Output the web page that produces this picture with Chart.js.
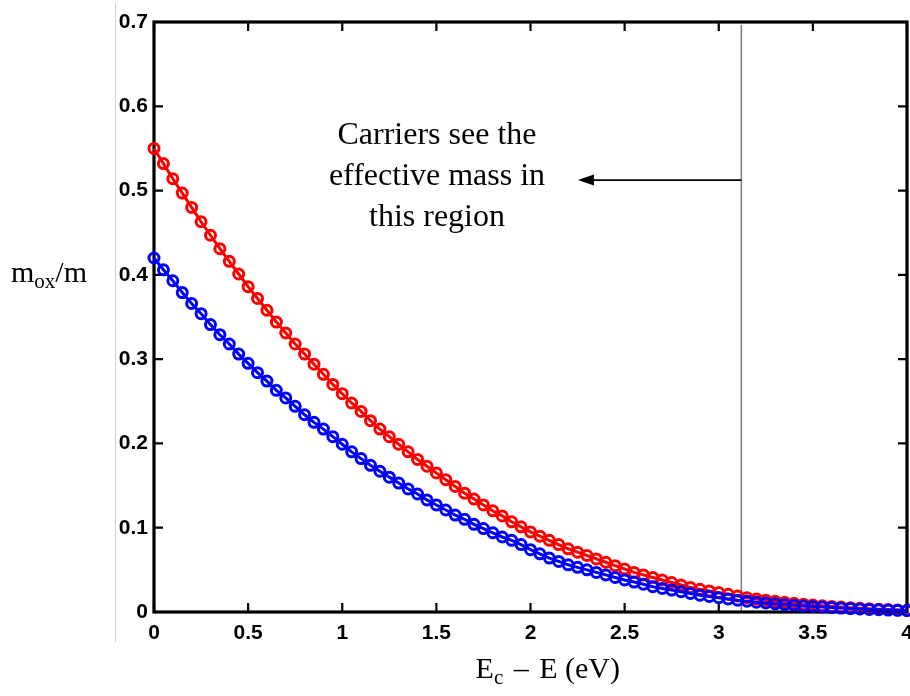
<!DOCTYPE html>
<html lang="en">
<head>
<meta charset="UTF-8">
<title>Effective mass vs energy</title>
<script src="https://cdn.jsdelivr.net/npm/chart.js@4/dist/chart.umd.min.js"></script>
<style>
  body { margin: 0; background: #fff; }
  #wrap { width: 910px; height: 696px; }
</style>
</head>
<body>
<div id="wrap"><canvas id="massChart" width="910" height="696"></canvas></div>
<script>
// energy below the conduction band edge, Ec - E (eV)
const energy = [
  0, 0.05, 0.1, 0.15, 0.2, 0.25, 0.3, 0.35, 0.4, 0.45,
  0.5, 0.55, 0.6, 0.65, 0.7, 0.75, 0.8, 0.85, 0.9, 0.95,
  1, 1.05, 1.1, 1.15, 1.2, 1.25, 1.3, 1.35, 1.4, 1.45,
  1.5, 1.55, 1.6, 1.65, 1.7, 1.75, 1.8, 1.85, 1.9, 1.95,
  2, 2.05, 2.1, 2.15, 2.2, 2.25, 2.3, 2.35, 2.4, 2.45,
  2.5, 2.55, 2.6, 2.65, 2.7, 2.75, 2.8, 2.85, 2.9, 2.95,
  3, 3.05, 3.1, 3.15, 3.2, 3.25, 3.3, 3.35, 3.4, 3.45,
  3.5, 3.55, 3.6, 3.65, 3.7, 3.75, 3.8, 3.85, 3.9, 3.95, 4
];

// m_ox / m, upper (red) curve
const massRed = [
  0.550, 0.532, 0.514, 0.497, 0.480, 0.463, 0.447, 0.431, 0.416, 0.401,
  0.386, 0.372, 0.358, 0.344, 0.331, 0.318, 0.306, 0.294, 0.282, 0.270,
  0.259, 0.248, 0.238, 0.227, 0.217, 0.208, 0.199, 0.190, 0.181, 0.173,
  0.165, 0.157, 0.149, 0.141, 0.134, 0.127, 0.120, 0.114, 0.107, 0.101,
  0.095, 0.090, 0.085, 0.080, 0.075, 0.071, 0.067, 0.063, 0.059, 0.055,
  0.051, 0.047, 0.044, 0.041, 0.038, 0.035, 0.032, 0.029, 0.027, 0.025,
  0.023, 0.021, 0.019, 0.017, 0.0155, 0.014, 0.0127, 0.0115, 0.0104, 0.0093,
  0.0083, 0.0074, 0.0066, 0.0058, 0.0051, 0.0045, 0.0039, 0.0034, 0.0029, 0.0025, 0.0021
];

// m_ox / m, lower (blue) curve
const massBlue = [
  0.420, 0.406, 0.393, 0.379, 0.366, 0.354, 0.341, 0.329, 0.318, 0.306,
  0.295, 0.284, 0.274, 0.263, 0.254, 0.244, 0.234, 0.225, 0.217, 0.208,
  0.199, 0.190, 0.182, 0.174, 0.167, 0.160, 0.153, 0.146, 0.140, 0.133,
  0.127, 0.121, 0.115, 0.110, 0.104, 0.099, 0.094, 0.089, 0.085, 0.080,
  0.074, 0.069, 0.064, 0.060, 0.056, 0.053, 0.050, 0.047, 0.044, 0.041,
  0.038, 0.0355, 0.033, 0.030, 0.028, 0.026, 0.024, 0.022, 0.020, 0.0185,
  0.017, 0.0155, 0.014, 0.0128, 0.0117, 0.0107, 0.0097, 0.0088, 0.008, 0.0072,
  0.0065, 0.0058, 0.0052, 0.0046, 0.0041, 0.0036, 0.0031, 0.0027, 0.0023, 0.002, 0.0017
];

const xTicks = [0, 0.5, 1, 1.5, 2, 2.5, 3, 3.5, 4];
const xTickLabels = ['0', '0.5', '1', '1.5', '2', '2.5', '3', '3.5', '4'];
const yTicks = [0, 0.1, 0.2, 0.3, 0.4, 0.5, 0.6, 0.7];
const yTickLabels = ['0', '0.1', '0.2', '0.3', '0.4', '0.5', '0.6', '0.7'];

// vertical marker and the arrow pointing back into the low-energy region
const cutoffEnergy = 3.12;
const arrowLevel = 0.5125;
const arrowTip = 2.252;
const noteLines = ['Carriers see the', 'effective mass in', 'this region'];

const serif = '"Liberation Serif", "Times New Roman", serif';
const sans = '"Liberation Sans", Arial, sans-serif';

function toPoints(ys) {
  return energy.map((x, i) => ({ x: x, y: ys[i] }));
}

// box, inward ticks, the cutoff line and the text annotations
const decorations = {
  id: 'decorations',
  beforeDatasetsDraw(chart) {
    const { ctx, chartArea: a, scales: { x, y } } = chart;
    ctx.save();

    // faint edge line left of the tick labels
    ctx.strokeStyle = '#d0d0d0';
    ctx.lineWidth = 1;
    ctx.beginPath();
    ctx.moveTo(115.5, 3);
    ctx.lineTo(115.5, 642);
    ctx.stroke();

    // cutoff line
    const cx = x.getPixelForValue(cutoffEnergy);
    ctx.strokeStyle = '#808080';
    ctx.lineWidth = 1.6;
    ctx.beginPath();
    ctx.moveTo(cx, a.top + 3);
    ctx.lineTo(cx, a.bottom);
    ctx.stroke();

    // ticks pointing into the plot, on all four sides
    ctx.strokeStyle = '#000';
    ctx.lineWidth = 2.2;
    ctx.beginPath();
    xTicks.forEach(v => {
      const px = x.getPixelForValue(v);
      ctx.moveTo(px, a.bottom); ctx.lineTo(px, a.bottom - 9);
      ctx.moveTo(px, a.top); ctx.lineTo(px, a.top + 9);
    });
    yTicks.forEach(v => {
      const py = y.getPixelForValue(v);
      ctx.moveTo(a.left, py); ctx.lineTo(a.left + 9, py);
      ctx.moveTo(a.right, py); ctx.lineTo(a.right - 9, py);
    });
    ctx.stroke();

    ctx.lineWidth = 3.2;
    ctx.strokeRect(a.left, a.top, a.right - a.left, a.bottom - a.top);

    // x tick labels (drawn here so the last one may run to the edge)
    ctx.fillStyle = '#000';
    ctx.font = 'bold 21px ' + sans;
    ctx.textAlign = 'center';
    ctx.textBaseline = 'alphabetic';
    xTicks.forEach((v, i) => ctx.fillText(xTickLabels[i], x.getPixelForValue(v), 639));
    ctx.restore();
  },
  afterDraw(chart) {
    const { ctx, scales: { x, y } } = chart;
    ctx.save();

    // arrow
    const ay = y.getPixelForValue(arrowLevel);
    const x0 = x.getPixelForValue(cutoffEnergy);
    const x1 = x.getPixelForValue(arrowTip);
    ctx.strokeStyle = '#000';
    ctx.fillStyle = '#000';
    ctx.lineWidth = 1.8;
    ctx.beginPath();
    ctx.moveTo(x0, ay);
    ctx.lineTo(x1 + 12, ay);
    ctx.stroke();
    ctx.beginPath();
    ctx.moveTo(x1, ay);
    ctx.lineTo(x1 + 16, ay - 5.5);
    ctx.lineTo(x1 + 16, ay + 5.5);
    ctx.closePath();
    ctx.fill();

    // note
    ctx.font = '32px ' + serif;
    ctx.textAlign = 'center';
    ctx.textBaseline = 'alphabetic';
    noteLines.forEach((t, i) => ctx.fillText(t, 437, 144 + i * 41));

    // y axis title: m_ox/m
    ctx.textAlign = 'left';
    let px = 11;
    const yb = 282;
    ctx.font = '30px ' + serif;
    ctx.fillText('m', px, yb); px += ctx.measureText('m').width;
    ctx.font = '21px ' + serif;
    ctx.fillText('ox', px, yb + 6); px += ctx.measureText('ox').width;
    ctx.font = '30px ' + serif;
    ctx.fillText('/m', px, yb);

    // x axis title: E_c – E (eV), right end fixed, a little extra room round the dash
    // each part: text, font size, baseline shift, extra gap after
    const parts = [['E', 30, 0, 0], ['c', 21, 6, 3], [' \u2013 ', 30, 0, 3], ['E (eV)', 30, 0, 0]];
    let total = 0;
    parts.forEach(p => { ctx.font = p[1] + 'px ' + serif; total += ctx.measureText(p[0]).width + p[3]; });
    px = 620 - total;
    const xb = 678;
    parts.forEach(p => {
      ctx.font = p[1] + 'px ' + serif;
      ctx.fillText(p[0], px, xb + p[2]);
      px += ctx.measureText(p[0]).width + p[3];
    });
    ctx.restore();
  }
};

function curve(values, color) {
  return {
    data: toPoints(values),
    borderColor: color,
    borderWidth: 3,
    pointStyle: 'circle',
    pointRadius: 5,
    pointBorderWidth: 3,
    pointBorderColor: color,
    pointBackgroundColor: 'rgba(0,0,0,0)',
    tension: 0,
    clip: false
  };
}

new Chart(document.getElementById('massChart'), {
  type: 'line',
  data: {
    // blue first so it is painted on top of the red curve
    datasets: [curve(massBlue, '#0000ff'), curve(massRed, '#ff0000')]
  },
  options: {
    responsive: false,
    animation: false,
    events: [],
    layout: { autoPadding: false, padding: { top: 22, right: 3, bottom: 44, left: 0 } },
    plugins: { legend: { display: false }, tooltip: { enabled: false } },
    scales: {
      x: {
        type: 'linear',
        min: 0,
        max: 4,
        afterBuildTicks: s => { s.ticks = xTicks.map(v => ({ value: v })); },
        afterFit: s => { s.height = 40; },
        grid: { display: false, drawTicks: false },
        border: { display: false },
        ticks: { display: false }
      },
      y: {
        min: 0,
        max: 0.7,
        afterBuildTicks: s => { s.ticks = yTicks.map(v => ({ value: v })); },
        afterFit: s => { s.width = 154; },
        grid: { display: false, drawTicks: false },
        border: { display: false },
        ticks: {
          color: '#000',
          font: { family: sans, size: 21, weight: 'bold' },
          padding: 6,
          autoSkip: false,
          callback: (v) => yTickLabels[yTicks.indexOf(v)]
        }
      }
    }
  },
  plugins: [decorations]
});
</script>
</body>
</html>
